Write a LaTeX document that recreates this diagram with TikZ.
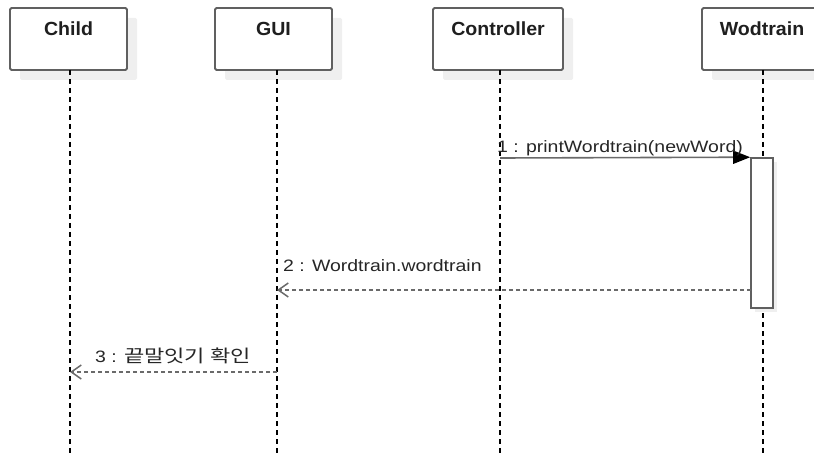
\documentclass[tikz,border=0pt]{standalone}
\usepackage{fontspec}
\setmainfont{Liberation Sans}
\newfontfamily\msgfont[FakeStretch=1.18]{Liberation Sans}
\newfontfamily\headfont[FakeStretch=1.03]{Liberation Sans}
\newfontfamily\krfont[FakeStretch=1.26]{Noto Sans CJK KR}
\usetikzlibrary{arrows.meta,shadows}
\definecolor{boxline}{HTML}{606060}
\definecolor{msgline}{HTML}{6A6A6A}
\definecolor{shadowc}{HTML}{EFEFEF}
\tikzset{
  lifebox/.style={draw=boxline, line width=1.8pt, rounded corners=1.5pt, fill=white,
    minimum height=62pt, inner sep=0pt,
    drop shadow={shadow xshift=10pt, shadow yshift=-10pt, fill=shadowc, opacity=1}},
  headtext/.style={font=\headfont\bfseries\fontsize{19}{21}\selectfont, anchor=base, inner sep=0pt, text=black!88},
  lifeline/.style={draw=black, line width=1.3pt, dash pattern=on 5pt off 4pt},
  actbox/.style={draw=boxline, line width=1.6pt, fill=white, minimum width=22pt, minimum height=150pt, inner sep=0pt,
    drop shadow={shadow xshift=4pt, shadow yshift=-4pt, fill=shadowc, opacity=1}},
  callmsg/.style={draw=msgline, line width=1.6pt, -{Triangle[length=17pt,width=13pt,fill=black,color=black]}},
  retmsg/.style={draw=msgline, line width=1.4pt, dash pattern=on 4pt off 3pt, -{Straight Barb[length=10pt,width=14pt,line width=1.5pt]}},
  msgtext/.style={font=\msgfont\fontsize{16.5}{18}\selectfont, anchor=base west, inner sep=0pt, text=black!85}
}
\begin{document}
\begin{tikzpicture}[x=1pt,y=-1pt]
\clip (0,0) rectangle (814,457);
\useasboundingbox (0,0) rectangle (814,457);
% boxes
\node[lifebox, minimum width=117pt] (child) at (68.5,39) {};
\node[lifebox, minimum width=117pt] (gui) at (273.5,39) {};
\node[lifebox, minimum width=130pt] (ctl) at (498,39) {};
\node[lifebox, minimum width=122pt] (wod) at (763,39) {};
\node[headtext] (childt) at (68.5,36) {Child};
\node[headtext] (guit) at (273.5,36) {GUI};
\node[headtext] (ctlt) at (498,36) {Controller};
\node[headtext] (wodt) at (762,36) {Wodtrain};
% lifeline ends
\coordinate (childtop) at (70,70);
\coordinate (guitop) at (277,70);
\coordinate (ctltop) at (500,70);
\coordinate (wodtop) at (763,70);
\coordinate (childbot) at (70,457);
\coordinate (guibot) at (277,457);
\coordinate (ctlbot) at (500,457);
\coordinate (wodbot) at (763,457);
\draw[lifeline] (childtop) -- (childbot);
\draw[lifeline] (guitop) -- (guibot);
\draw[lifeline] (ctltop) -- (ctlbot);
\draw[lifeline] (wodtop) -- (wodbot);
% activation
\node[actbox] (act) at (762,233) {};
% messages
\coordinate (ctl1) at (500,158);
\coordinate (gui2) at (277,290);
\coordinate (act2) at (751,290);
\coordinate (gui3) at (277,372);
\coordinate (child3) at (70,372);
\draw[callmsg] (ctl1) -- (act.north west);
\draw[retmsg] (act2) -- (gui2);
\draw[retmsg] (gui3) -- (child3);
\node[msgtext] (l1) at (497,153) {1 : printWordtrain(newWord)};
\node[msgtext] (l2) at (283,272) {2 : Wordtrain.wordtrain};
\node[msgtext] (l3) at (95,362) {3 : {\krfont\fontsize{17.5}{19}\selectfont 끝말잇기 확인}};
\end{tikzpicture}
\end{document}
